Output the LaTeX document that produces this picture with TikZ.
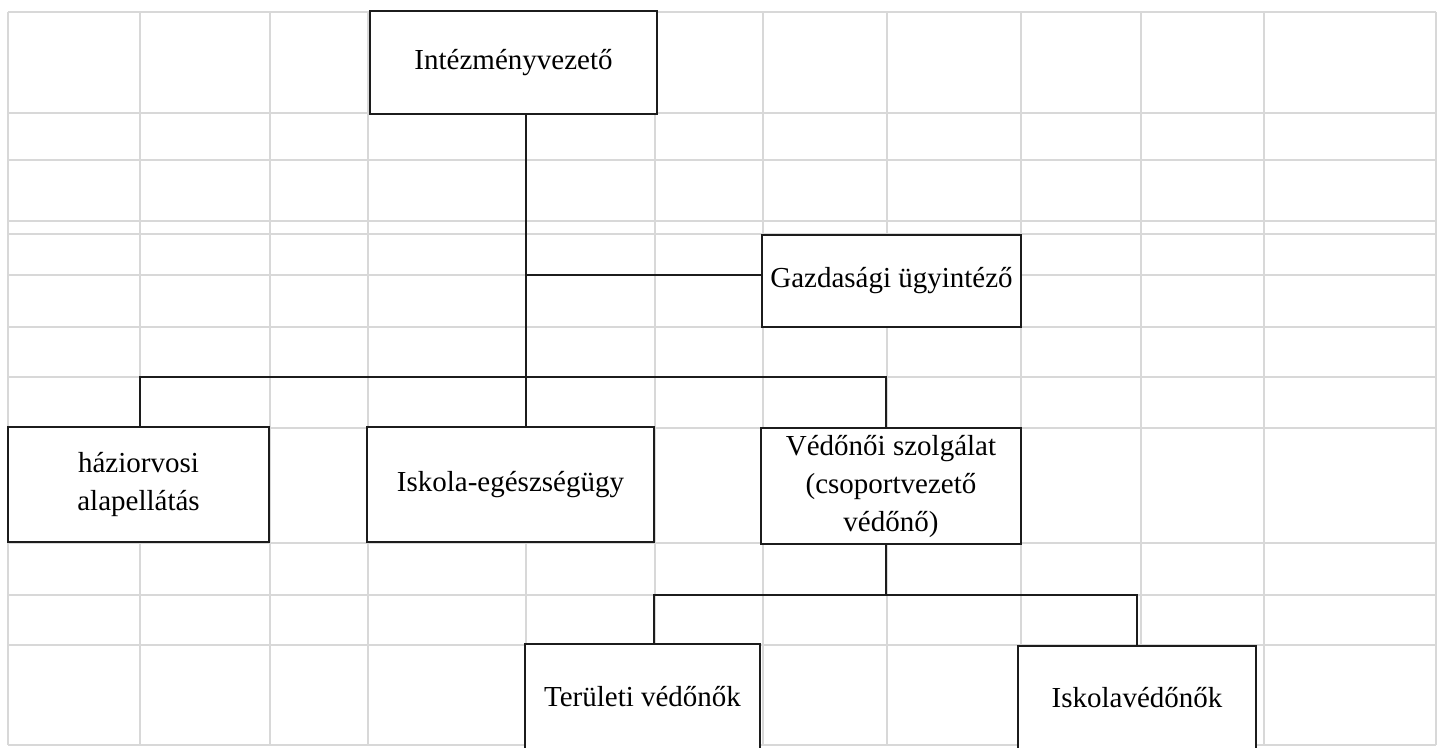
\documentclass[tikz,border=0pt]{standalone}
\usepackage{fontspec}
\setmainfont{Liberation Serif}
\definecolor{gridgray}{RGB}{216,216,216}
\definecolor{boxblack}{RGB}{28,28,28}

\begin{document}
\begin{tikzpicture}[x=1pt, y=-1pt,
    unit/.style={draw=boxblack, line width=2.8pt, fill=white, align=center, inner sep=0pt, font=\fontsize{29}{38}\selectfont},
    link/.style={draw=boxblack, line width=2.6pt}]
    \clip (0,0) rectangle (1447,747);
    \fill[white] (0,0) rectangle (1447,747);
    % spreadsheet grid
    \foreach \gx in {8,140,270,368,526,655,763,887,1021,1141,1264,1436}
        \draw[gridgray, line width=1.1pt] (\gx,12) -- (\gx,745);
    \foreach \gy in {12,113,160,221,234,275,327,377,428,543,595,645,745}
        \draw[gridgray, line width=1.1pt] (8,\gy) -- (1436,\gy);
    % boxes
    \node[unit, minimum width=287pt, minimum height=103pt] (head) at (513.5,62.5) {Intézményvezető};
    \node[unit, minimum width=259pt, minimum height=92pt] (gazd) at (891.5,281) {Gazdasági ügyintéző};
    \node[unit, minimum width=261pt, minimum height=115pt] (hazi) at (138.5,484.5) {háziorvosi\\alapellátás};
    \node[unit, minimum width=287pt, minimum height=115pt] (iskola) at (510.5,484.5) {Iskola-egészségügy};
    \node[unit, minimum width=260pt, minimum height=116pt] (vedo) at (891,486) {Védőnői szolgálat\\(csoportvezető\\védőnő)};
    \node[unit, minimum width=235pt, minimum height=106pt] (terul) at (642.5,697) {Területi védőnők};
    \node[unit, minimum width=238pt, minimum height=104pt] (iskv) at (1137,698) {Iskolavédőnők};
    % connectors
    \coordinate (trunk) at (526,275);
    \coordinate (bus) at (526,377);
    \coordinate (fork) at (654,595);
    \draw[link] (head.south -| trunk) -- (iskola.north -| trunk);
    \draw[link] (trunk) -- (trunk -| gazd.west);
    \draw[link] ([xshift=1.5pt]hazi.north) |- (bus) -| ([xshift=-5pt]vedo.north);
    \draw[link] ([xshift=-5pt]vedo.south) |- (fork) -- (fork |- terul.north);
    \draw[link] ([xshift=-5pt]vedo.south |- fork) -| (iskv.north);
\end{tikzpicture}
\end{document}
